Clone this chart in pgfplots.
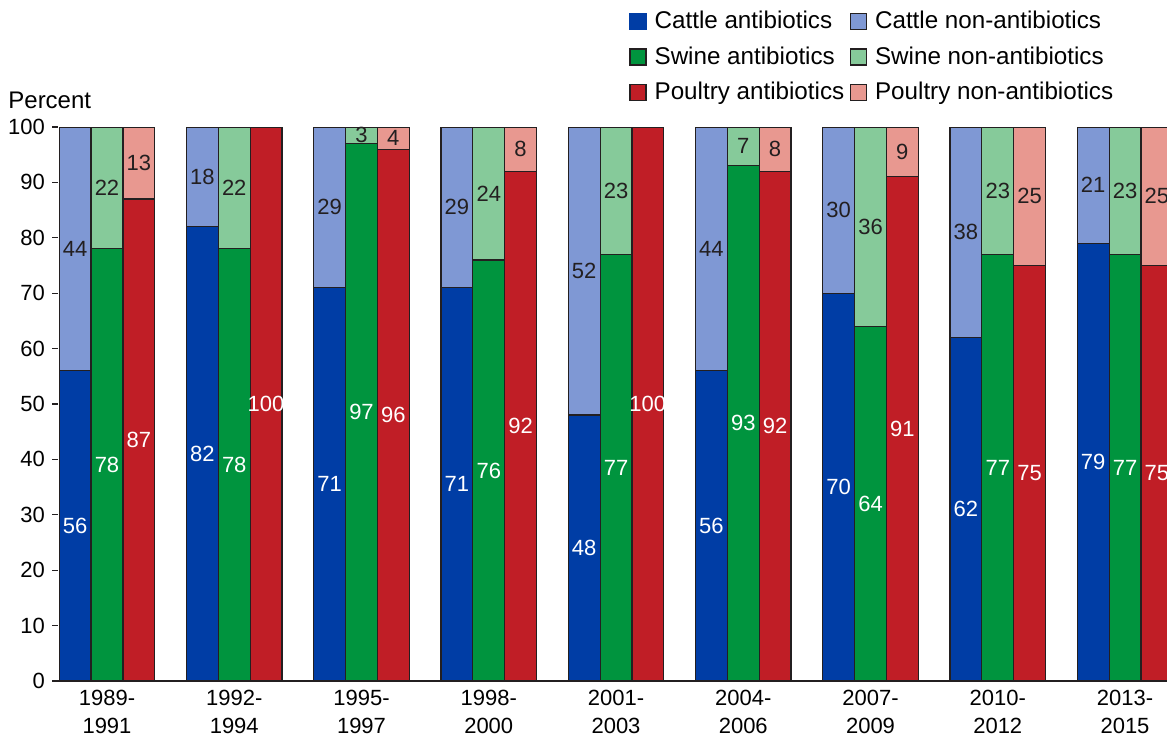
\documentclass[border=0pt]{standalone}
\usepackage{pgfplots}
\usepackage{pgfplotstable}
\pgfplotsset{compat=1.18}
\usepackage{fontspec}
\setmainfont{Liberation Sans}

\definecolor{cA}{RGB}{0,61,165}
\definecolor{cN}{RGB}{127,152,212}
\definecolor{sA}{RGB}{0,148,62}
\definecolor{sN}{RGB}{134,202,154}
\definecolor{pA}{RGB}{192,30,38}
\definecolor{pN}{RGB}{232,152,144}
\definecolor{edge}{RGB}{35,31,32}

\pgfplotstableread{
x anti non
0 56 44
1 82 18
2 71 29
3 71 29
4 48 52
5 56 44
6 70 30
7 62 38
8 79 21
}\cattle
\pgfplotstableread{
x anti non
0 78 22
1 78 22
2 97 3
3 76 24
4 77 23
5 93 7
6 64 36
7 77 23
8 77 23
}\swine
\pgfplotstableread{
x anti non
0 87 13
1 100 0
2 96 4
3 92 8
4 100 0
5 92 8
6 91 9
7 75 25
8 75 25
}\poultry

\pgfplotsset{
  barplot/.style={ybar, bar width=0.25, bar shift=0pt, draw=edge, line width=0.6pt},
  lab/.style={draw=none, mark=none, nodes near coords, point meta=explicit,
    nodes near coords align=center,
    every node near coord/.append style={font=\fontsize{11}{13}\selectfont, anchor=center, inner sep=0pt, text=#1}},
}

\begin{document}
\begin{tikzpicture}
\useasboundingbox (0,0) rectangle (583.5pt,368pt);
\begin{axis}[name=ax, at={(29pt,27.5pt)}, anchor=south west,
  scale only axis, width=554.5pt, height=277pt,
  xmin=-0.385, xmax=8.33, ymin=0, ymax=100,
  axis x line*=bottom, axis y line*=left,
  y axis line style={draw=none},
  x axis line style={draw=edge, line width=0.6pt, -},
  ytick={0,10,...,100},
  xtick={0,...,8},
  xticklabels={{1989-\\1991},{1992-\\1994},{1995-\\1997},{1998-\\2000},{2001-\\2003},{2004-\\2006},{2007-\\2009},{2010-\\2012},{2013-\\2015}},
  xticklabel style={align=center, font=\fontsize{11}{14}\selectfont, inner sep=1.5pt},
  yticklabel style={font=\fontsize{11}{13}\selectfont},
  x tick style={draw=none},
  y tick style={draw=edge, line width=0.6pt},
  tick align=outside, major tick length=3pt,
  /pgf/number format/assume math mode=true,
  legend image code/.code={\draw[#1] (0pt,-4pt) rectangle (8pt,4pt);},
  legend columns=2,
  legend cell align=left,
  legend style={at={(rel axis cs:0.5149,1.217)}, anchor=north west, draw=none, fill=none,
    font=\fontsize{12.1}{14}\selectfont, inner sep=0pt, row sep=3.5pt,
    /tikz/every odd column/.append style={column sep=2pt},
    /tikz/every even column/.append style={column sep=0.8pt}},
]
\addlegendimage{fill=cA, draw=cA, line width=0.6pt}
\addlegendentry{Cattle antibiotics}
\addlegendimage{fill=cN, draw=edge, line width=0.6pt}
\addlegendentry{Cattle non-antibiotics}
\addlegendimage{fill=sA, draw=edge, line width=0.6pt}
\addlegendentry{Swine antibiotics}
\addlegendimage{fill=sN, draw=edge, line width=0.6pt}
\addlegendentry{Swine non-antibiotics}
\addlegendimage{fill=pA, draw=edge, line width=0.6pt}
\addlegendentry{Poultry antibiotics}
\addlegendimage{fill=pN, draw=edge, line width=0.6pt}
\addlegendentry{Poultry non-antibiotics}

% full bars (antibiotics + non-antibiotics)
\addplot[barplot, fill=cN, forget plot] table[x expr=\thisrow{x}-0.25, y expr=\thisrow{anti}+\thisrow{non}] {\cattle};
\addplot[barplot, fill=cA, forget plot] table[x expr=\thisrow{x}-0.25, y=anti] {\cattle};
\addplot[barplot, fill=sN, forget plot] table[x=x, y expr=\thisrow{anti}+\thisrow{non}] {\swine};
\addplot[barplot, fill=sA, forget plot] table[x=x, y=anti] {\swine};
\addplot[barplot, fill=pN, forget plot] table[x expr=\thisrow{x}+0.25, y expr=\thisrow{anti}+\thisrow{non}] {\poultry};
\addplot[barplot, fill=pA, forget plot] table[x expr=\thisrow{x}+0.25, y=anti] {\poultry};

% labels
\addplot[lab=white, forget plot] table[x expr=\thisrow{x}-0.25, y expr=\thisrow{anti}/2, meta=anti] {\cattle};
\addplot[lab=edge, forget plot, restrict expr to domain={\thisrow{non}}{0.5:200}] table[x expr=\thisrow{x}-0.25, y expr=\thisrow{anti}+\thisrow{non}/2, meta=non] {\cattle};
\addplot[lab=white, forget plot] table[x=x, y expr=\thisrow{anti}/2, meta=anti] {\swine};
\addplot[lab=edge, forget plot, restrict expr to domain={\thisrow{non}}{0.5:200}] table[x=x, y expr=\thisrow{anti}+\thisrow{non}/2, meta=non] {\swine};
\addplot[lab=white, forget plot] table[x expr=\thisrow{x}+0.25, y expr=\thisrow{anti}/2, meta=anti] {\poultry};
\addplot[lab=edge, forget plot, restrict expr to domain={\thisrow{non}}{0.5:200}] table[x expr=\thisrow{x}+0.25, y expr=\thisrow{anti}+\thisrow{non}/2, meta=non] {\poultry};
\end{axis}
\node[anchor=base west, font=\fontsize{12}{14}\selectfont, inner sep=0pt] at ([xshift=-25pt, yshift=9.5pt]ax.north west) {Percent};
\end{tikzpicture}
\end{document}
